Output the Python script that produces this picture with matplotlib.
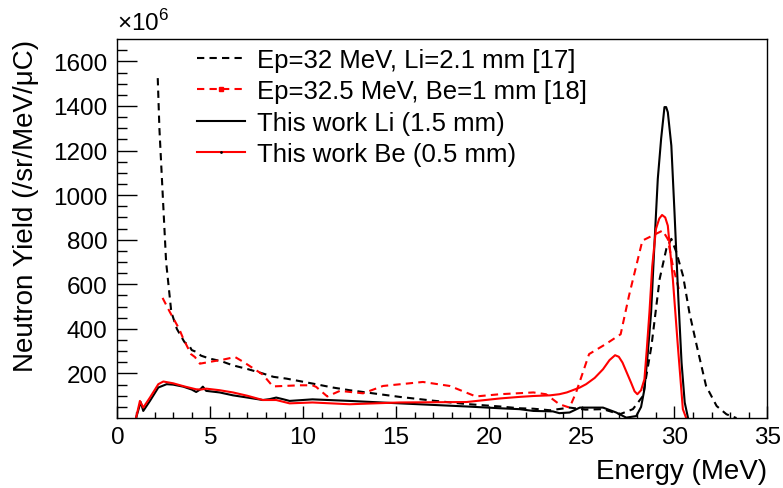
import numpy as np
import matplotlib
matplotlib.use("Agg")
import matplotlib.pyplot as plt
from matplotlib.lines import Line2D
from matplotlib.ticker import MultipleLocator, FixedLocator

plt.rcParams['font.family'] = ['Liberation Sans', 'DejaVu Sans']
plt.rcParams['mathtext.fontset'] = 'custom'
plt.rcParams['mathtext.rm'] = 'Liberation Sans'

# reference spectrum, Ep=32 MeV on 2.1 mm Li
e_li_ref = [2.17, 2.26, 2.44, 2.62, 2.9, 3.2, 3.6, 3.9, 4.0, 4.24, 4.5, 4.96, 5.6, 6.2,
            7.0, 7.83, 8.4, 9.1, 10.5, 11.6, 12.5, 13.4, 15.2, 17.0, 18.8, 20.6, 21.65,
            22.4, 23.3, 24.35, 25.2, 26.15, 27.05, 27.76, 28.3, 28.76, 29.2, 29.56, 29.83,
            30.1, 30.46, 30.8, 31.2, 31.7, 32.27, 32.8, 33.34]
y_li_ref = [1525, 1298, 999, 701, 476, 400, 342, 320, 305, 297, 280, 267, 255, 237,
            220, 200, 185, 177, 155, 137, 125, 115, 95, 78, 63, 52, 44,
            42, 35, 47, 38, 40, 17, 40, 99, 324, 624, 759, 804,
            744, 638, 474, 324, 144, 54, 17, 0]

# reference spectrum, Ep=32.5 MeV on 1 mm Be
e_be_ref = [2.43, 2.82, 3.33, 3.54, 3.96, 4.17, 4.44, 5.31, 5.52, 6.33, 6.78, 7.83, 8.37,
            9.8, 10.5, 10.7, 11.3, 11.98, 13.23, 14.3, 16.45, 17.9, 19.3, 20.6, 22.4,
            23.08, 23.8, 24.35, 24.7, 25.4, 26.3, 27.1, 27.55, 28.27, 28.8, 29.36, 29.64,
            29.91, 30.23]
y_be_ref = [539, 476, 399, 357, 287, 274, 244, 257, 259, 274, 252, 195, 142,
            147, 147, 140, 97, 122, 111, 144, 162, 144, 97, 107, 115,
            107, 62, 47, 115, 287, 332, 376, 549, 796, 818, 841, 803,
            683, 579]

# this work, Li 1.5 mm
e_li = [1.0, 1.25, 1.39, 1.75, 2.2, 2.65, 3.0, 3.54, 4.0, 4.24, 4.45, 4.6, 4.78, 5.5,
        6.22, 7.0, 7.83, 8.2, 8.55, 8.9, 9.27, 10.5, 12.5, 15.2, 18.8, 20.6, 21.65,
        22.4, 23.45, 23.8, 24.35, 24.9, 26.15, 26.86, 27.4, 27.94, 28.2, 28.38, 28.55,
        28.74, 28.92, 29.1, 29.28, 29.46, 29.55, 29.64, 29.83, 30.0, 30.2, 30.38, 30.55,
        30.73]
y_li = [0, 72, 32, 77, 137, 152, 150, 141, 128, 117, 128, 141, 122, 115,
        102, 92, 81, 85, 92, 85, 77, 84, 77, 66, 52, 44, 40,
        32, 30, 22, 25, 47, 47, 25, 2, 9, 50, 129, 280,
        474, 780, 1073, 1253, 1395, 1395, 1372, 1222, 923, 549, 249, 70,
        0]

# this work, Be 0.5 mm
e_be = [1.0, 1.21, 1.39, 1.75, 2.2, 2.47, 3.0, 3.6, 4.24, 4.5, 4.78, 5.5, 6.22, 7.0,
        7.83, 8.55, 9.27, 10.5, 12.5, 15.2, 18.8, 20.6, 21.65, 22.4, 23.3, 23.8, 24.2,
        24.9, 25.24, 25.7, 26.15, 26.5, 26.8, 27.0, 27.2, 27.45, 27.66, 27.85, 28.0,
        28.2, 28.38, 28.5, 28.65, 28.8, 29.0, 29.18, 29.33, 29.5, 29.64, 29.91, 30.18,
        30.45, 30.63]
y_be = [0, 77, 47, 92, 152, 164, 156, 142, 129, 128, 132, 125, 115, 100,
        81, 81, 66, 70, 62, 70, 72, 88, 95, 99, 102, 107, 115,
        137, 152, 180, 219, 260, 282, 275, 249, 200, 159, 120, 107,
        125, 174, 300, 474, 680, 848, 895, 911, 900, 863, 624, 324,
        40, 0]

labels = ["Ep=32 MeV, Li=2.1 mm [17]", "Ep=32.5 MeV, Be=1 mm [18]",
          "This work Li (1.5 mm)", "This work Be (0.5 mm)"]

fig = plt.figure(figsize=(7.83, 4.89), dpi=100)
ax = fig.add_axes([0.150, 0.143, 0.830, 0.775])

lw = 1.5
dash = (3.5, 2.5)
ax.plot(e_li_ref, y_li_ref, color='black', lw=lw, dashes=dash)
ax.plot(e_be_ref, y_be_ref, color='red', lw=lw, dashes=dash)
ax.plot(e_li, y_li, color='black', lw=lw)
ax.plot(e_be, y_be, color='red', lw=lw)

ax.set_xlim(0, 35)
ax.set_ylim(0, 1700)
ax.xaxis.set_major_locator(MultipleLocator(5))
ax.xaxis.set_minor_locator(MultipleLocator(1))
ax.yaxis.set_major_locator(FixedLocator(np.arange(200, 1601, 200)))
ax.yaxis.set_minor_locator(FixedLocator(np.arange(50, 1700, 50)))

ax.tick_params(which='both', direction='in', top=False, right=False, width=1, colors='black')
ax.tick_params(axis='y', which='major', length=14.4, pad=7, labelsize=17.5)
ax.tick_params(axis='y', which='minor', length=7.2)
ax.tick_params(axis='x', which='major', length=9, pad=6, labelsize=17.5)
ax.tick_params(axis='x', which='minor', length=4.3)
for sp in ax.spines.values():
    sp.set_linewidth(1)

ax.set_xlabel("Energy (MeV)", fontsize=20, loc='right', labelpad=7)
ax.set_ylabel("Neutron Yield (/sr/MeV/\u03bcC)", fontsize=20, loc='top', labelpad=10)
ax.text(0.0, 1.012, r"$\times$10$^{6}$", transform=ax.transAxes, fontsize=17.5,
        ha='left', va='bottom')

handles = [
    Line2D([], [], color='black', lw=lw, dashes=dash),
    Line2D([], [], color='red', lw=lw, dashes=dash, marker='s', markersize=3),
    Line2D([], [], color='black', lw=lw),
    Line2D([], [], color='red', lw=lw, marker='.', markersize=2,
           markerfacecolor='black', markeredgecolor='black'),
]
ax.legend(handles, labels, loc='upper left', bbox_to_anchor=(0.122, 0.977),
          frameon=False, fontsize=18.5, handlelength=1.87, handletextpad=0.47,
          labelspacing=0.29, borderpad=0, borderaxespad=0, numpoints=1)

fig.savefig("out.png", dpi=100)
